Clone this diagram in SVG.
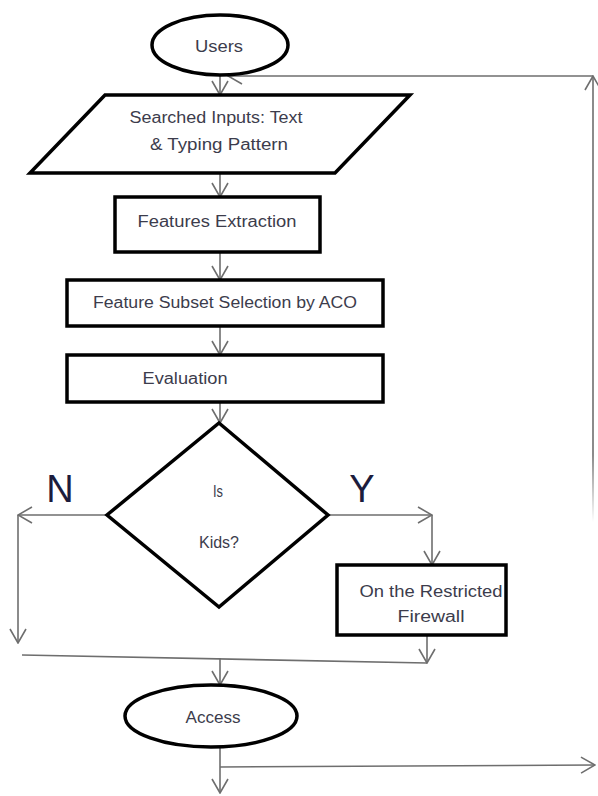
<svg xmlns="http://www.w3.org/2000/svg" width="598" height="796" viewBox="0 0 598 796">
<defs>
<style>
.node{fill:#fff;stroke:#000;stroke-width:3.5}
.conn{fill:none;stroke:#6e6e6e;stroke-width:1.6}
.lbl{font-family:"Liberation Sans",Arial,sans-serif;font-size:16px;fill:#3c3c4c;text-anchor:middle}
.yn{font-family:"Liberation Sans",Arial,sans-serif;font-size:38px;fill:#1c1c3c;text-anchor:middle}
</style>
<marker id="arr" markerUnits="userSpaceOnUse" markerWidth="16" markerHeight="18" viewBox="0 0 16 18" refX="15" refY="9" orient="auto">
<path d="M1,1 L15,9 L1,17" fill="none" stroke="#6e6e6e" stroke-width="1.6"/>
</marker>
<linearGradient id="fade" gradientUnits="userSpaceOnUse" x1="0" y1="76" x2="0" y2="522">
<stop offset="0" stop-color="#6e6e6e"/>
<stop offset="0.85" stop-color="#6e6e6e"/>
<stop offset="1" stop-color="#6e6e6e" stop-opacity="0"/>
</linearGradient>
</defs>
<rect width="598" height="796" fill="#fff"/>

<g id="connectors">
<path class="conn" d="M220,75 L220,95" marker-end="url(#arr)"/>
<path class="conn" d="M220,173 L220,197" marker-end="url(#arr)"/>
<path class="conn" d="M220,252 L220,280" marker-end="url(#arr)"/>
<path class="conn" d="M220,326 L220,355" marker-end="url(#arr)"/>
<path class="conn" d="M220,402 L220,423" marker-end="url(#arr)"/>
<path class="conn" d="M107,515 L18,515" marker-end="url(#arr)"/>
<path class="conn" d="M18,515 L18,643" marker-end="url(#arr)"/>
<path class="conn" d="M328,515 L432,515" marker-end="url(#arr)"/>
<path class="conn" d="M432,515 L432,565" marker-end="url(#arr)"/>
<path class="conn" d="M427,635 L427,663" marker-end="url(#arr)"/>
<path class="conn" d="M22,655 L427,663"/>
<path class="conn" d="M220,658 L220,685" marker-end="url(#arr)"/>
<path class="conn" d="M220,748 L220,793" marker-end="url(#arr)"/>
<path class="conn" d="M220,767 L595,765" marker-end="url(#arr)"/>
<path class="conn" d="M593,522 L593,76" style="stroke:url(#fade)" marker-end="url(#arr)"/>
<path class="conn" d="M593,76 L228,76" marker-end="url(#arr)"/>
</g>

<g id="users">
<ellipse class="node" cx="220" cy="45" rx="68" ry="30"/>
<text class="lbl" x="219" y="52" textLength="48" lengthAdjust="spacingAndGlyphs">Users</text>
</g>

<g id="inputs">
<polygon class="node" points="105,95 410,95 335,173 30,173"/>
<text class="lbl" x="216" y="123" textLength="173" lengthAdjust="spacingAndGlyphs">Searched Inputs: Text</text>
<text class="lbl" x="219" y="150" textLength="138" lengthAdjust="spacingAndGlyphs">&amp; Typing Pattern</text>
</g>

<g id="features-extraction">
<rect class="node" x="115" y="197" width="205" height="55"/>
<text class="lbl" x="217" y="227" textLength="159" lengthAdjust="spacingAndGlyphs">Features Extraction</text>
</g>

<g id="feature-subset">
<rect class="node" x="67" y="280" width="316" height="46"/>
<text class="lbl" x="225" y="308" textLength="264" lengthAdjust="spacingAndGlyphs">Feature Subset Selection by ACO</text>
</g>

<g id="evaluation">
<rect class="node" x="67" y="355" width="316" height="47"/>
<text class="lbl" x="185" y="384" textLength="85" lengthAdjust="spacingAndGlyphs">Evaluation</text>
</g>

<g id="decision">
<polygon class="node" points="219,423 328,515 219,607 107,515"/>
<text class="lbl" x="218" y="497" textLength="10" lengthAdjust="spacingAndGlyphs">Is</text>
<text class="lbl" x="219" y="548" textLength="40" lengthAdjust="spacingAndGlyphs">Kids?</text>
<text class="yn" x="60" y="502">N</text>
<text class="yn" x="362" y="502">Y</text>
</g>

<g id="firewall">
<rect class="node" x="337" y="565" width="169" height="70"/>
<text class="lbl" x="431" y="597" textLength="143" lengthAdjust="spacingAndGlyphs">On the Restricted</text>
<text class="lbl" x="431" y="622" textLength="67" lengthAdjust="spacingAndGlyphs">Firewall</text>
</g>

<g id="access">
<ellipse class="node" cx="211" cy="716" rx="86" ry="31"/>
<text class="lbl" x="213" y="723" textLength="55" lengthAdjust="spacingAndGlyphs">Access</text>
</g>
</svg>
